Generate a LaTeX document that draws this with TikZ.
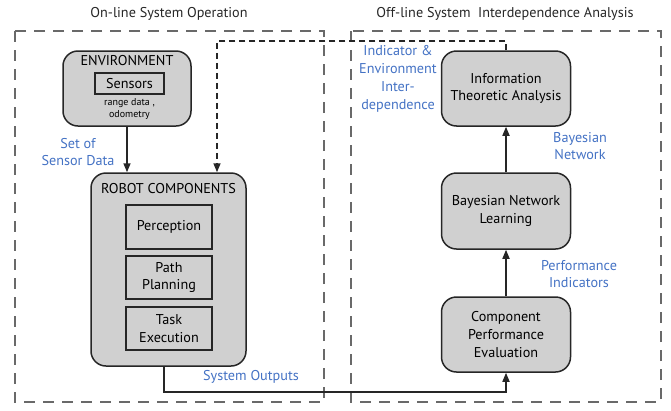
\documentclass[tikz,border=0pt]{standalone}
\usepackage{fontspec}
\setmainfont{PT Sans}
\usepackage{tikz}
\usetikzlibrary{arrows.meta, positioning, calc}

\definecolor{boxgray}{RGB}{208,208,208}
\definecolor{labelblue}{RGB}{68,114,196}
\definecolor{framegray}{RGB}{105,105,105}

\begin{document}
\begin{tikzpicture}[
        x=1pt, y=-1pt,
        font=\fontsize{14.2}{17.8}\selectfont,
        block/.style={
            draw=black!85,
            line width=1.5pt,
            fill=boxgray,
            rounded corners=15pt,
            align=center,
            inner sep=2pt
        },
        subblock/.style={
            draw=black!85,
            line width=1.5pt,
            fill=boxgray,
            align=center,
            minimum width=86pt,
            inner sep=1pt
        },
        frame/.style={
            draw=framegray,
            line width=1.3pt,
            dash pattern=on 11pt off 8pt
        },
        arrow/.style={
            line width=1.6pt,
            draw=black!85,
            -{Triangle[length=9pt, width=7pt]}
        },
        feedback/.style={
            arrow,
            dash pattern=on 6pt off 4pt
        },
        flowlabel/.style={
            text=labelblue,
            align=center
        },
        title/.style={
            font=\fontsize{14.2}{17}\selectfont,
            text=black!85
        }
    ]

    \useasboundingbox (0,0) rectangle (671,410);

    % Frames
    \draw [frame] (15,31) rectangle (324,402);
    \draw [frame] (351,31) rectangle (661,402);
    \node (ontitle) [title] at (169,14) {On-line System Operation};
    \node (offtitle) [title] at (505,14) {Off-line System\ \ Interdependence Analysis};

    % On-line blocks
    \node (env) [block, minimum width=128pt, minimum height=75pt] at (127,88.5) {};
    \node (envtitle) [anchor=north] at ([yshift=-2pt]env.north) {ENVIRONMENT};
    \node (sensors) [subblock, minimum width=69pt, minimum height=21pt] at (129.5,83.5) {Sensors};
    \node (sensordata) [below=0pt of sensors, align=center, font=\fontsize{10}{12}\selectfont] {range data ,\\odometry};

    \node (robot) [block, minimum width=155pt, minimum height=193pt] at (168.5,269.5) {};
    \node (robottitle) [anchor=north] at ([yshift=-8pt]robot.north) {ROBOT COMPONENTS};
    \node (perception) [subblock, minimum height=44pt] at (169,227) {Perception};
    \node (planning) [subblock, minimum height=43pt] at (169,277.5) {Path\\Planning};
    \node (execution) [subblock, minimum height=43pt] at (169,328.5) {Task\\Execution};

    % Off-line blocks
    \node (info) [block, minimum width=129pt, minimum height=75pt] at (506,88.5) {Information\\Theoretic Analysis};
    \node (bnl) [block, minimum width=129pt, minimum height=76pt] at (506,211) {Bayesian Network\\Learning};
    \node (cpe) [block, minimum width=129pt, minimum height=75pt] at (506,334.5) {Component\\Performance\\Evaluation};

    % Connectors
    \coordinate (fb) at (217,41);
    \coordinate (outturn) at (164,392);
    \draw [arrow] (env.south) -- (env.south |- robot.north);
    \draw [feedback] (info.north) |- (fb) -- (fb |- robot.north);
    \draw [arrow] (robot.south -| outturn) -- (outturn) -| (cpe.south);
    \draw [arrow] (cpe.north) -- (bnl.south);
    \draw [arrow] (bnl.north) -- (info.south);

    % Labels
    \node (lsensor) [flowlabel] at (78,152) {Set of\\Sensor Data};
    \node (linter) [flowlabel] at (398,79) {Indicator \&\\Environment\\Inter-\\dependence};
    \node (lbayes) [flowlabel] at (580,146) {Bayesian\\Network};
    \node (lperf) [flowlabel] at (579,274) {Performance\\Indicators};
    \node (loutputs) [flowlabel] at (251,377) {System Outputs};

\end{tikzpicture}
\end{document}
